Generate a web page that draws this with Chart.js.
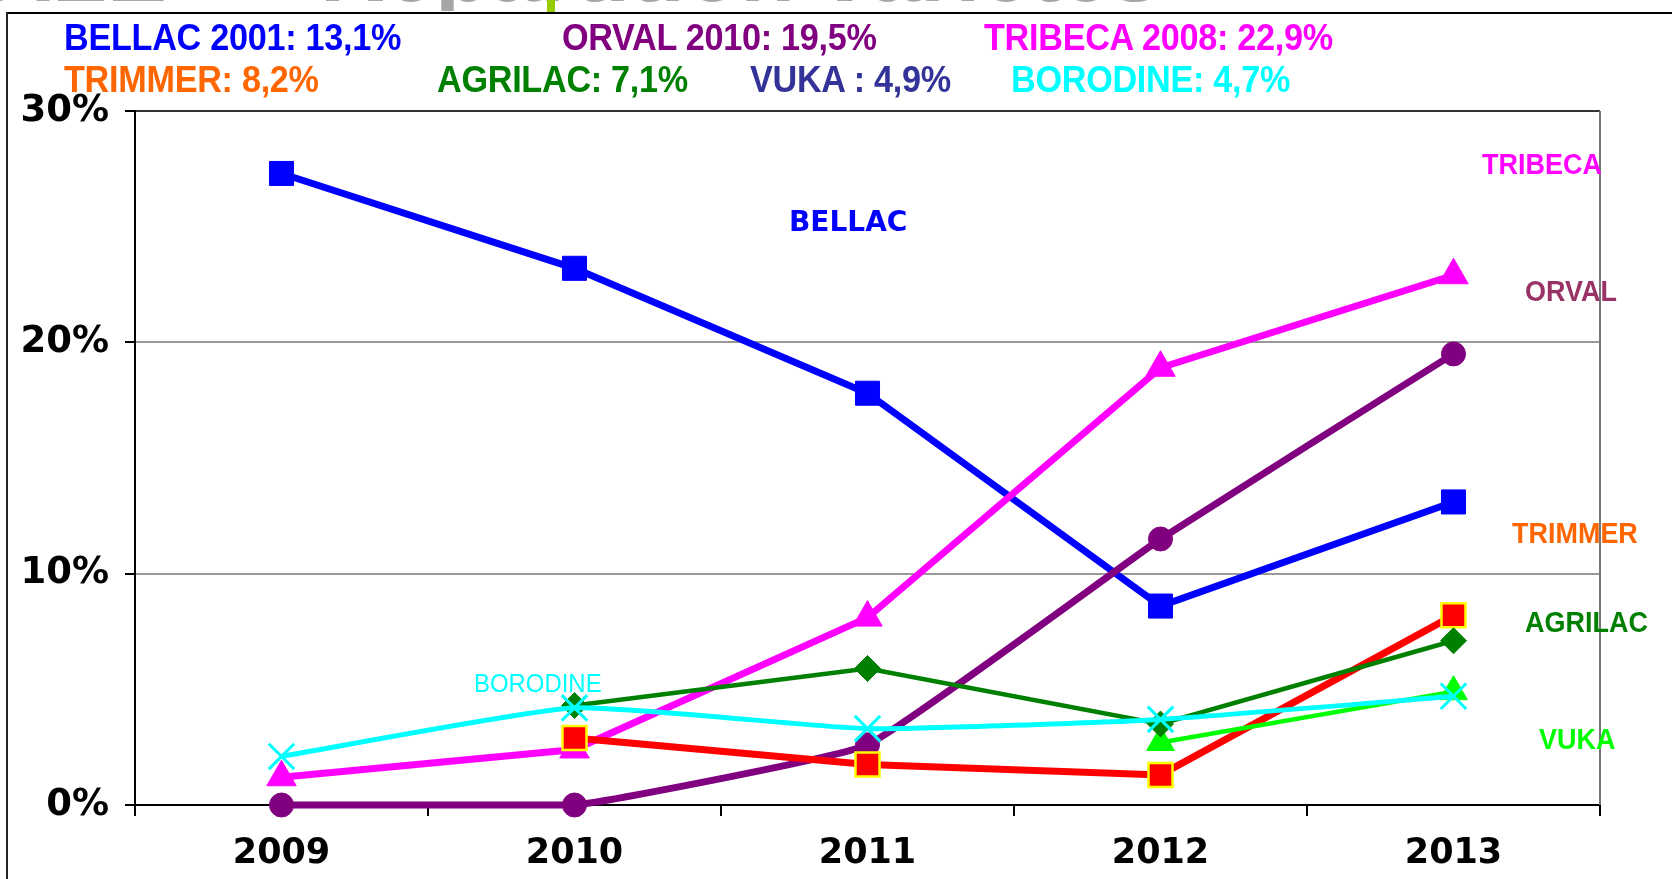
<!DOCTYPE html>
<html>
<head>
<meta charset="utf-8">
<script src="https://cdn.jsdelivr.net/npm/chart.js@4.4.1/dist/chart.umd.min.js"></script>
<style>
  html, body { margin: 0; padding: 0; background: #fff; }
  #wrap { position: relative; width: 1672px; height: 879px; overflow: hidden; }
  #c { position: absolute; left: 0; top: 0; }
  .t { position: absolute; white-space: nowrap; font-family: "Liberation Sans", Arial, sans-serif; font-weight: bold; transform-origin: left center; }
  .hdr { font-size: 36px; line-height: 40px; transform: scaleX(0.95); letter-spacing: -0.3px; }
  .side { font-size: 29px; line-height: 32px; transform: scaleX(0.93); }
  #titleClip { position: absolute; left: 0; top: 0; width: 1672px; height: 11px; overflow: hidden; }
  .title { position: absolute; font-family: "Liberation Sans", Arial, sans-serif; font-weight: bold; font-size: 90px; line-height: 90px; color: #A6A6A6; white-space: nowrap; top: -75px; }
</style>
</head>
<body>
<div id="wrap">
  <div id="titleClip">
    <div class="title" style="right:1430px;">NATIONALE –</div>
    <div class="title" style="left:320px;">Répartition variétés</div>
  </div>
  <div style="position:absolute;left:547px;top:0;width:8px;height:13px;background:#99CC00;"></div>
  <div style="position:absolute;left:6px;top:12px;width:1666px;height:2px;background:#000;"></div>
  <div style="position:absolute;left:6px;top:12px;width:2px;height:867px;background:#222;"></div>
  <canvas id="c" width="1672" height="879"></canvas>
  <div id="labels"></div>
</div>
<script>
// ---- data ----
const years = ["2009", "2010", "2011", "2012", "2013"];
const bellac   = [27.3, 23.2, 17.8, 8.6, 13.1];
const orval    = [0, 0, 2.6, 11.5, 19.5];
const tribeca  = [1.2, 2.4, 8.1, 18.9, 22.9];
const trimmer  = [null, 2.9, 1.75, 1.3, 8.2];
const agrilac  = [null, 4.3, 5.9, 3.5, 7.1];
const vuka     = [null, null, null, 2.7, 4.9];
const borodine = [2.1, 4.2, 3.3, 3.7, 4.7];
const yTicks = [0, 10, 20, 30];
const headerRow1 = ["BELLAC 2001: 13,1%", "ORVAL 2010: 19,5%", "TRIBECA 2008: 22,9%"];
const headerRow2 = ["TRIMMER: 8,2%", "AGRILAC: 7,1%", "VUKA : 4,9%", "BORODINE: 4,7%"];
const seriesNames = ["TRIBECA", "ORVAL", "TRIMMER", "AGRILAC", "VUKA", "BELLAC", "BORODINE"];

// ---- text labels (HTML) ----
const labelsDiv = document.getElementById('labels');
function addText(txt, x, y, cls, color, extra) {
  const d = document.createElement('div');
  d.className = 't ' + cls;
  d.textContent = txt;
  d.style.left = x + 'px';
  d.style.top = y + 'px';
  d.style.color = color;
  if (extra) Object.assign(d.style, extra);
  labelsDiv.appendChild(d);
}
addText(headerRow1[0], 64, 18, 'hdr', '#0000FF');
addText(headerRow1[1], 562, 18, 'hdr', '#800080');
addText(headerRow1[2], 984, 18, 'hdr', '#FF00FF');
addText(headerRow2[0], 64, 60, 'hdr', '#FF6600');
addText(headerRow2[1], 437, 60, 'hdr', '#008000');
addText(headerRow2[2], 750, 60, 'hdr', '#333399');
addText(headerRow2[3], 1011, 60, 'hdr', '#00FFFF');

addText(seriesNames[0], 1482, 148, 'side', '#FF00FF');
addText(seriesNames[1], 1525, 275, 'side', '#993366');
addText(seriesNames[2], 1512, 517, 'side', '#FF6600');
addText(seriesNames[3], 1525, 606, 'side', '#008000');
addText(seriesNames[4], 1539, 723, 'side', '#00FF00');
addText(seriesNames[5], 789, 205, '', '#0000FF', {fontFamily: '"DejaVu Sans", Verdana, sans-serif', fontSize: '28px', lineHeight: '34px'});
addText(seriesNames[6], 474, 668, '', '#00FFFF', {fontWeight: 'normal', fontSize: '26px', lineHeight: '30px', transform: 'scaleX(0.92)'});

// ---- chart ----
const plotBorder = {
  id: 'plotBorder',
  afterDraw(chart) {
    const {ctx, chartArea: a} = chart;
    ctx.save();
    ctx.strokeStyle = '#777';
    ctx.lineWidth = 2;
    ctx.beginPath();
    ctx.moveTo(a.right, a.top);
    ctx.lineTo(a.right, a.bottom);
    ctx.stroke();
    ctx.restore();
  }
};

const ds = (label, data, color, width, style, radius, extra) => Object.assign({
  label, data,
  borderColor: color, backgroundColor: color,
  borderWidth: width,
  pointStyle: style, pointRadius: radius,
  pointBackgroundColor: color, pointBorderColor: color, pointBorderWidth: 1,
  spanGaps: false, tension: 0, clip: false
}, extra || {});

new Chart(document.getElementById('c'), {
  type: 'line',
  data: {
    labels: years,
    datasets: [
      ds('BORODINE', borodine, '#00FFFF', 5, 'crossRot', 18, {pointBorderWidth: 3, tension: 0.15}),
      ds('AGRILAC', agrilac, '#008000', 4.5, 'rectRot', 13),
      ds('VUKA', vuka, '#00FF00', 4.5, 'triangle', 16),
      ds('TRIMMER', trimmer, '#FF0000', 7, 'rect', 17, {pointBorderColor: '#FFFF00', pointBorderWidth: 2.5}),
      ds('ORVAL', orval, '#800080', 7, 'circle', 12, {tension: 0.1}),
      ds('TRIBECA', tribeca, '#FF00FF', 7, 'triangle', 17),
      ds('BELLAC', bellac, '#0000FF', 7, 'rect', 17)
    ]
  },
  options: {
    responsive: false,
    animation: false,
    events: [],
    layout: { padding: { top: 111, right: 72, left: 0, bottom: 0 } },
    plugins: { legend: { display: false }, tooltip: { enabled: false } },
    scales: {
      x: {
        offset: true,
        afterFit: s => { s.height = 74; },
        border: { display: true, color: '#000', width: 2 },
        grid: { offset: true, drawOnChartArea: false, drawTicks: true, tickLength: 11, color: '#000', lineWidth: 2 },
        ticks: { color: '#000', padding: 17, font: { family: '"DejaVu Sans", Verdana, sans-serif', weight: 'bold', size: 35 } }
      },
      y: {
        min: 0, max: 30,
        afterFit: s => { s.width = 135; },
        afterBuildTicks: s => { s.ticks = yTicks.map(v => ({ value: v })); },
        border: { display: true, color: '#000', width: 2 },
        grid: {
          color: c => (c.tick && c.tick.value === 30) ? '#333' : (c.tick && c.tick.value === 0 ? '#000' : '#999'),
          lineWidth: 2, tickLength: 10, tickColor: '#000'
        },
        ticks: {
          color: '#000', padding: 16,
          callback: v => v + '%',
          font: { family: '"DejaVu Sans", Verdana, sans-serif', weight: 'bold', size: 37 }
        }
      }
    }
  },
  plugins: [plotBorder]
});
</script>
</body>
</html>
